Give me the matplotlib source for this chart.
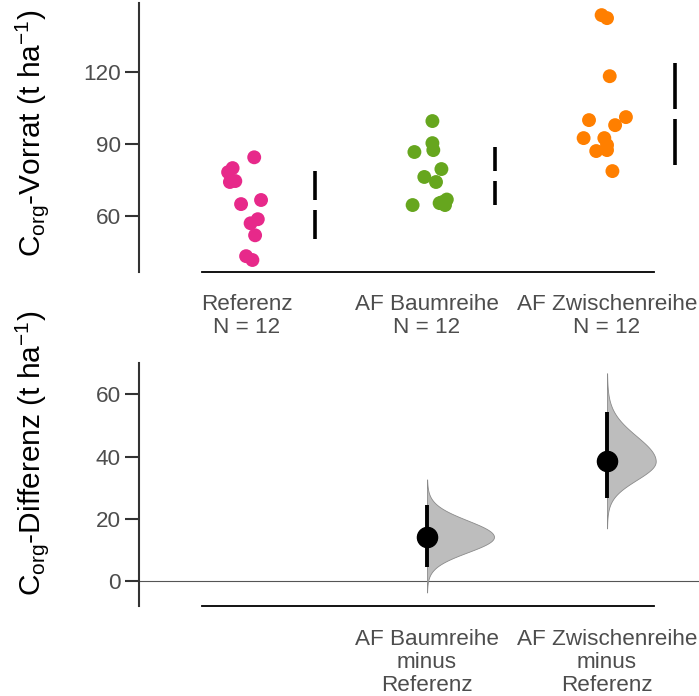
import numpy as np
import matplotlib
matplotlib.use("Agg")
import matplotlib.pyplot as plt

plt.rcParams['font.family'] = ['Liberation Sans', 'DejaVu Sans']
plt.rcParams['mathtext.fontset'] = 'custom'
plt.rcParams['mathtext.rm'] = 'Liberation Sans'
plt.rcParams['mathtext.it'] = 'Liberation Sans:italic'

# ---------------- data ----------------
groups = ["Referenz", "AF Baumreihe", "AF Zwischenreihe"]
colors = ["#e7298a", "#66a61e", "#ff7f00"]

referenz = [84.5, 80.0, 78.3, 74.2, 74.6, 65.0, 66.7, 58.7, 57.0, 52.0, 43.3, 41.7]
baumreihe = [99.6, 90.4, 87.5, 86.7, 79.6, 76.3, 74.2, 64.6, 65.4, 66.9, 64.6, 65.8]
zwischenreihe = [143.75, 142.5, 118.3, 100.0, 101.25, 97.9, 92.5, 92.5, 89.6, 87.1, 87.5, 78.75]

# horizontal jitter of each point (category units)
jit_referenz = [0.04, -0.08, -0.105, -0.095, -0.065, -0.033, 0.078, 0.06, 0.02, 0.045, -0.005, 0.03]
jit_baumreihe = [0.03, 0.03, 0.035, -0.07, 0.08, -0.015, 0.05, -0.08, 0.07, 0.11, 0.10, 0.085]
jit_zwischenreihe = [-0.03, 0.0, 0.015, -0.10, 0.105, 0.045, -0.13, -0.015, 0.0, -0.06, 0.0, 0.03]

# effect sizes (mean difference vs Referenz) and 95% CI
delta_labels = ["AF Baumreihe\nminus\nReferenz", "AF Zwischenreihe\nminus\nReferenz"]
delta_mean = [14.3, 38.5]
delta_ci_low = [4.6, 26.8]
delta_ci_high = [24.6, 54.3]

values = [referenz, baumreihe, zwischenreihe]
jitters = [jit_referenz, jit_baumreihe, jit_zwischenreihe]

# ---------------- figure ----------------
W, H = 699, 696
fig = plt.figure(figsize=(W / 100, H / 100), dpi=100)

def fx(px):
    return px / W

def fy(py):
    return 1 - py / H

ax1 = fig.add_axes([fx(139), fy(272), fx(699) - fx(139), fy(3) - fy(272)])
ax2 = fig.add_axes([fx(139), fy(605.5), fx(699) - fx(139), fy(363) - fy(605.5)])

xlim = (-0.6, 2.511)
tick_color = "#333333"
label_gray = "#4d4d4d"

for ax in (ax1, ax2):
    ax.set_xlim(*xlim)
    ax.spines['top'].set_visible(False)
    ax.spines['right'].set_visible(False)
    ax.spines['left'].set_linewidth(1.5)
    ax.spines['left'].set_color(tick_color)
    ax.spines['bottom'].set_linewidth(1.3)
    ax.spines['bottom'].set_color("black")
    ax.spines['bottom'].set_bounds(-0.25, 2.26)
    ax.tick_params(axis='y', length=10, width=1.5, color=tick_color,
                   labelsize=16.2, labelcolor=label_gray, pad=3)
    ax.tick_params(axis='x', length=0, labelsize=16.2, labelcolor=label_gray)

# top panel: raw data
for i, (vals, jit, c) in enumerate(zip(values, jitters, colors)):
    xs = i + np.array(jit)
    ax1.scatter(xs, vals, s=100, color=c, edgecolors='none', zorder=3)
    m = np.mean(vals)
    sd = np.std(vals, ddof=1)
    gap = 2.0
    xo = i + 0.375
    ax1.plot([xo, xo], [m - sd, m - gap], color='black', lw=2.6, solid_capstyle='butt')
    ax1.plot([xo, xo], [m + gap, m + sd], color='black', lw=2.6, solid_capstyle='butt')

ax1.set_ylim(36.7, 148.8)
ax1.set_yticks([60, 90, 120])
ax1.set_xticks(range(3))
ax1.set_xticklabels([f"{g}\nN = {len(v)}" for g, v in zip(groups, values)],
                    linespacing=1.12)
ax1.tick_params(axis='x', pad=16)

# bottom panel: effect sizes
ax2.set_ylim(-7.7, 70.0)
ax2.set_yticks([0, 20, 40, 60])
ax2.axhline(0, color="#555555", lw=0.8, zorder=1)

sd_lo = [(m - lo) / 1.96 for m, lo in zip(delta_mean, delta_ci_low)]
sd_hi = [(hi - m) / 1.96 for m, hi in zip(delta_mean, delta_ci_high)]
peaks = [2 / (np.sqrt(2 * np.pi) * (a + b)) for a, b in zip(sd_lo, sd_hi)]
scale = 0.372 / max(peaks)

for j in range(2):
    xc = j + 1
    m = delta_mean[j]
    y = np.linspace(m - 3.6 * sd_lo[j], m + 3.5 * sd_hi[j], 400)
    s = np.where(y < m, sd_lo[j], sd_hi[j])
    dens = 2 / (np.sqrt(2 * np.pi) * (sd_lo[j] + sd_hi[j])) * np.exp(-0.5 * ((y - m) / s) ** 2)
    ax2.fill_betweenx(y, xc, xc + dens * scale, facecolor="#bdbdbd",
                      edgecolor="#8a8a8a", lw=0.6, zorder=2)
    ax2.plot([xc, xc], [delta_ci_low[j], delta_ci_high[j]], color='black',
             lw=2.8, solid_capstyle='butt', zorder=3)
    ax2.scatter([xc], [m], s=210, color='black', zorder=4)

ax2.set_xticks([1, 2])
ax2.set_xticklabels(delta_labels, linespacing=1.12)
ax2.tick_params(axis='x', pad=17)

fig.text(fx(32), fy(133), r'C$_{\mathrm{org}}$-Vorrat (t ha$^{\mathrm{-1}}$)',
         rotation=90, ha='center', va='center', fontsize=21.5, color='black')
fig.text(fx(32), fy(453), r'C$_{\mathrm{org}}$-Differenz (t ha$^{\mathrm{-1}}$)',
         rotation=90, ha='center', va='center', fontsize=21.5, color='black')

fig.savefig("out.png", dpi=100)
